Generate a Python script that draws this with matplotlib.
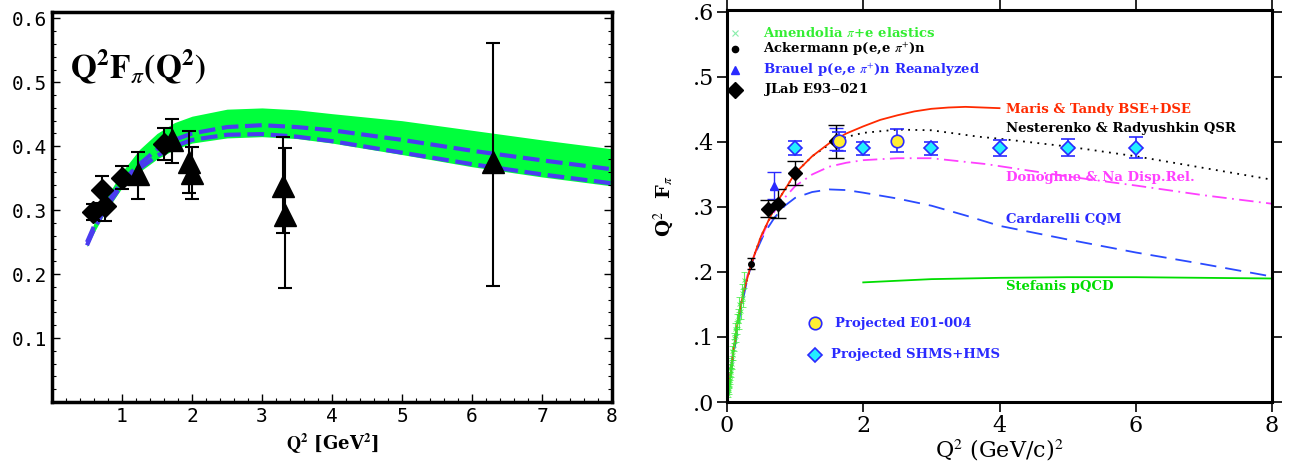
import numpy as np
import matplotlib
matplotlib.use("Agg")
import matplotlib.pyplot as plt
from matplotlib.ticker import MultipleLocator, FixedLocator

plt.rcParams['mathtext.fontset'] = 'stix'

# ---------------- left panel data ----------------
band_x = [0.5, 0.6, 0.75, 1.0, 1.25, 1.5, 1.75, 2.0, 2.5, 3.0, 3.5, 4.0, 5.0, 6.0, 7.0, 8.0]
band_hi = [0.250, 0.280, 0.315, 0.360, 0.395, 0.420, 0.437, 0.447, 0.458, 0.460, 0.457, 0.451, 0.440, 0.425, 0.410, 0.396]
band_lo = [0.243, 0.265, 0.295, 0.335, 0.360, 0.380, 0.395, 0.405, 0.413, 0.415, 0.412, 0.405, 0.387, 0.368, 0.352, 0.338]
dash_hi = [0.250, 0.275, 0.305, 0.345, 0.372, 0.395, 0.410, 0.420, 0.430, 0.433, 0.430, 0.425, 0.410, 0.393, 0.378, 0.364]
dash_lo = [0.245, 0.270, 0.300, 0.340, 0.365, 0.385, 0.400, 0.410, 0.418, 0.419, 0.415, 0.408, 0.390, 0.372, 0.356, 0.342]

jlab_l_x = [0.59, 0.71, 0.76, 1.00, 1.60]
jlab_l_y = [0.297, 0.332, 0.306, 0.351, 0.404]
jlab_l_e = [0.012, 0.021, 0.023, 0.018, 0.025]

tri_x = [1.23, 1.72, 1.95, 2.00, 3.30, 3.33, 6.30]
tri_y = [0.356, 0.410, 0.376, 0.358, 0.338, 0.292, 0.375]
tri_lo = [0.038, 0.036, 0.049, 0.041, 0.074, 0.114, 0.193]
tri_hi = [0.035, 0.033, 0.048, 0.041, 0.076, 0.106, 0.187]

# ---------------- right panel data ----------------
maris_x = [0.01, 0.03, 0.09, 0.16, 0.24, 0.36, 0.5, 0.75, 1.0, 1.25, 1.5, 1.75, 2.0, 2.25, 2.5, 2.75, 3.0, 3.25, 3.5, 3.75, 4.0]
maris_y = [0.010, 0.024, 0.075, 0.125, 0.168, 0.214, 0.255, 0.310, 0.352, 0.378, 0.398, 0.413, 0.424, 0.434, 0.441, 0.447, 0.451, 0.453, 0.454, 0.453, 0.452]

nest_x = [0.01, 0.03, 0.09, 0.16, 0.24, 0.36, 0.5, 0.75, 1.0, 1.25, 1.5, 1.65, 2.0, 2.5, 3.0, 3.7, 4.0, 5.0, 6.0, 7.0, 8.0]
nest_y = [0.010, 0.024, 0.075, 0.125, 0.168, 0.214, 0.255, 0.310, 0.352, 0.378, 0.396, 0.405, 0.414, 0.419, 0.418, 0.408, 0.405, 0.393, 0.378, 0.360, 0.342]

don_x = [0.01, 0.05, 0.1, 0.2, 0.3, 0.45, 0.6, 0.75, 1.0, 1.25, 1.5, 1.75, 2.0, 2.5, 3.0, 3.8, 5.0, 6.0, 7.0, 8.0]
don_y = [0.010, 0.050, 0.085, 0.150, 0.195, 0.240, 0.275, 0.303, 0.332, 0.350, 0.362, 0.368, 0.372, 0.375, 0.375, 0.366, 0.347, 0.333, 0.318, 0.305]

card_x = [0.01, 0.05, 0.1, 0.2, 0.3, 0.4, 0.55, 0.7, 0.85, 1.0, 1.25, 1.5, 1.75, 2.0, 2.5, 3.0, 3.5, 4.0, 5.0, 6.0, 7.0, 8.0]
card_y = [0.005, 0.040, 0.075, 0.140, 0.190, 0.225, 0.260, 0.284, 0.302, 0.314, 0.323, 0.327, 0.326, 0.322, 0.313, 0.302, 0.287, 0.271, 0.250, 0.230, 0.212, 0.193]

stef_x = [2.0, 3.0, 4.0, 5.0, 6.0, 7.0, 8.0]
stef_y = [0.184, 0.189, 0.191, 0.192, 0.192, 0.191, 0.190]

amen_x = [0.015, 0.02, 0.025, 0.03, 0.035, 0.04, 0.045, 0.05, 0.055, 0.06, 0.07, 0.08, 0.09,
          0.10, 0.11, 0.12, 0.13, 0.14, 0.15, 0.16, 0.17, 0.18, 0.20, 0.22, 0.24, 0.253]
amen_y = [0.012, 0.022, 0.018, 0.030, 0.026, 0.040, 0.034, 0.052, 0.046, 0.060, 0.058, 0.078, 0.072,
          0.098, 0.088, 0.112, 0.102, 0.125, 0.114, 0.132, 0.124, 0.150, 0.140, 0.168, 0.160, 0.188]
amen_e = [0.004, 0.004, 0.005, 0.005, 0.005, 0.006, 0.006, 0.006, 0.007, 0.007, 0.007, 0.008, 0.008,
          0.008, 0.009, 0.009, 0.010, 0.010, 0.010, 0.011, 0.011, 0.012, 0.012, 0.013, 0.014, 0.012]

acker_x = [0.35]
acker_y = [0.213]
acker_e = [0.009]

brauel_x = [0.69, 1.60]
brauel_y = [0.333, 0.404]
brauel_e = [0.021, 0.017]

jlab_r_x = [0.60, 0.75, 1.00, 1.60]
jlab_r_y = [0.297, 0.305, 0.352, 0.401]
jlab_r_e = [0.013, 0.022, 0.018, 0.025]

e01_x = [1.65, 2.50]
e01_y = [0.401, 0.402]
e01_e = [0.015, 0.018]

shms_x = [1.0, 2.0, 3.0, 4.0, 5.0, 6.0]
shms_y = [0.391, 0.390, 0.390, 0.391, 0.391, 0.391]
shms_e = [0.011, 0.010, 0.010, 0.012, 0.013, 0.016]

curve_labels = ["Maris & Tandy BSE+DSE", "Nesterenko & Radyushkin QSR",
                "Donoghue & Na Disp.Rel.", "Cardarelli CQM", "Stefanis pQCD"]
curve_label_y = [0.450, 0.420, 0.346, 0.281, 0.177]
curve_colors = ["#ff2a00", "black", "#ff40ff", "#2a2aff", "#00dd00"]

legend_labels = [r"Amendolia $\pi$+e elastics", r"Ackermann p(e,e $\pi^{+}$)n",
                 r"Brauel p(e,e $\pi^{+}$)n Reanalyzed", "JLab E93$-$021"]
legend_y = [0.568, 0.543, 0.511, 0.480]

fig = plt.figure(figsize=(12.92, 4.65), dpi=100)

# ================= left panel =================
ax1 = fig.add_axes([52 / 1292, 63 / 465, 560 / 1292, 390 / 465])
ax1.fill_between(band_x, band_lo, band_hi, color="#00ff3c", lw=0)
ax1.plot(band_x, dash_hi, color="#4a3cf0", lw=3, dashes=(4, 1.6))
ax1.plot(band_x, dash_lo, color="#4a3cf0", lw=3, dashes=(4, 1.6))
ax1.errorbar(jlab_l_x, jlab_l_y, yerr=jlab_l_e, fmt='D', color='black', ms=11,
             elinewidth=1.5, capsize=5, capthick=1.5)
ax1.errorbar(tri_x, tri_y, yerr=[tri_lo, tri_hi], fmt='^', color='black', ms=16,
             elinewidth=1.5, capsize=5, capthick=1.5)
ax1.set_xlim(0, 8)
ax1.set_ylim(0, 0.61)
ax1.xaxis.set_major_locator(FixedLocator([1, 2, 3, 4, 5, 6, 7, 8]))
ax1.xaxis.set_minor_locator(MultipleLocator(0.2))
ax1.yaxis.set_major_locator(FixedLocator([0.1, 0.2, 0.3, 0.4, 0.5, 0.6]))
ax1.yaxis.set_minor_locator(MultipleLocator(0.02))
ax1.tick_params(which='both', direction='in', left=True, right=True, bottom=True, top=False)
ax1.tick_params(which='major', length=6, width=1)
ax1.tick_params(which='minor', length=3, width=0.8)
ax1.set_yticklabels(["0.1", "0.2", "0.3", "0.4", "0.5", "0.6"], family="DejaVu Sans Mono", fontsize=14)
ax1.set_xticklabels([str(i) for i in range(1, 9)], family="DejaVu Sans Mono", fontsize=14)
for s in ax1.spines.values():
    s.set_linewidth(2.5)
ax1.set_xlabel(r"$\mathbf{Q^2}$ [GeV$^{\mathbf{2}}$]", family="DejaVu Serif", fontsize=13, fontweight='bold', labelpad=4)
ax1.text(0.25, 0.525, r"$\mathbf{Q^2F}_{\pi}\mathbf{(Q^2)}$", fontsize=24, ha='left', va='center')

# ================= right panel =================
ax2 = fig.add_axes([727 / 1292, 63 / 465, 545 / 1292, 392 / 465])
ax2.plot(card_x, card_y, color="#2a4aff", lw=1.3, dashes=(9, 5))
ax2.plot(don_x, don_y, color="#ff40ff", lw=1.3, dashes=(8, 3, 1, 3))
ax2.plot(nest_x, nest_y, color="black", lw=1.3, dashes=(1, 3))
ax2.plot(maris_x, maris_y, color="#ff2a00", lw=1.3)
ax2.plot(stef_x, stef_y, color="#00dd00", lw=1.3)

ax2.errorbar(amen_x, amen_y, yerr=amen_e, fmt='x', color="#33ee33", ms=3, mew=0.6,
             elinewidth=0.8, capsize=2, alpha=0.8)
ax2.errorbar(acker_x, acker_y, yerr=acker_e, fmt='o', color='black', ms=4,
             elinewidth=1, capsize=3)
ax2.errorbar(brauel_x, brauel_y, yerr=brauel_e, fmt='^', color="#2a2aff", ms=6,
             elinewidth=1, capsize=5)
ax2.errorbar(jlab_r_x, jlab_r_y, yerr=jlab_r_e, fmt='D', color='black', ms=7,
             elinewidth=1, capsize=6)
ax2.errorbar(e01_x, e01_y, yerr=e01_e, fmt='o', mfc="#ffee33", mec="#2a2aff", ecolor="#2a2aff",
             ms=9, mew=1.2, elinewidth=1.2, capsize=5)
ax2.errorbar(shms_x, shms_y, yerr=shms_e, fmt='D', mfc="#22eeff", mec="#2a2aff", ecolor="#2a2aff",
             ms=7, mew=1.2, elinewidth=1.2, capsize=5)

txt = dict(family="DejaVu Serif", fontweight='bold', fontsize=9.5, va='center', ha='left')
for lab, yy, cc in zip(curve_labels, curve_label_y, curve_colors):
    ax2.text(4.1, yy, lab, color=cc, **txt)

legend_colors = ["#33ee33", "black", "#2a2aff", "black"]
ax2.plot([0.12], [legend_y[0]], 'x', color="#88eeaa", ms=4, mew=0.8)
ax2.plot([0.12], [legend_y[1]], 'o', color='black', ms=4.5)
ax2.plot([0.12], [legend_y[2]], '^', color="#2a2aff", ms=6)
ax2.plot([0.12], [legend_y[3]], 'D', color='black', ms=8)
for lab, yy, cc in zip(legend_labels, legend_y, legend_colors):
    ax2.text(0.53, yy, lab, color=cc, **txt)

ax2.plot([1.29], [0.121], 'o', mfc="#ffee33", mec="#2a2aff", ms=9, mew=1.2)
ax2.plot([1.29], [0.0725], 'D', mfc="#22eeff", mec="#2a2aff", ms=7, mew=1.2)
ax2.text(1.58, 0.121, "Projected E01-004", color="#2a2aff", **txt)
ax2.text(1.53, 0.0725, "Projected SHMS+HMS", color="#2a2aff", **txt)

ax2.set_xlim(0, 8)
ax2.set_ylim(0, 0.603)
ax2.set_xticks([0, 2, 4, 6, 8])
ax2.set_yticks([0.0, 0.1, 0.2, 0.3, 0.4, 0.5, 0.6])
ax2.set_xticklabels(["0", "2", "4", "6", "8"], family="DejaVu Serif", fontsize=16)
ax2.set_yticklabels([".0", ".1", ".2", ".3", ".4", ".5", ".6"], family="DejaVu Serif", fontsize=16)
ax2.tick_params(direction='out', length=7, width=1.2, top=True, right=True, pad=2)
for s in ax2.spines.values():
    s.set_linewidth(2.2)
ax2.set_xlabel(r"Q$^2$ (GeV/c)$^2$", family="DejaVu Serif", fontsize=16, labelpad=0)
ax2.set_ylabel(r"Q$^2$  F$_\pi$", family="DejaVu Serif", fontsize=14, fontweight='bold', labelpad=12)

fig.savefig("out.png", dpi=100)
